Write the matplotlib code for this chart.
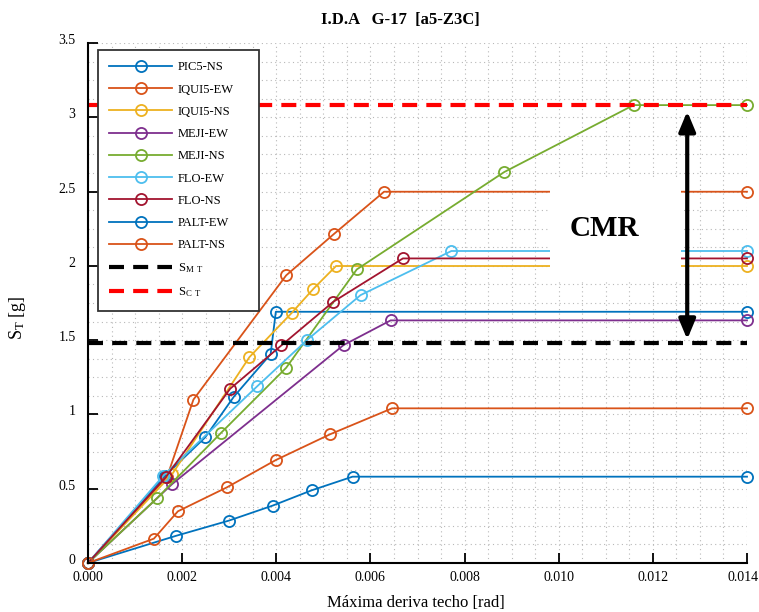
import matplotlib
matplotlib.use("Agg")
import matplotlib.pyplot as plt
import matplotlib.transforms as mtransforms
from matplotlib.patches import Rectangle, FancyArrowPatch
from matplotlib.ticker import MultipleLocator

plt.rcParams["font.family"] = ["Liberation Serif", "DejaVu Serif"]
plt.rcParams["mathtext.fontset"] = "custom"
plt.rcParams["mathtext.rm"] = "Liberation Serif"
plt.rcParams["mathtext.it"] = "Liberation Serif"

# datos (deriva [rad], S_T [g])
pic5_ns_x = [0, 0.00163, 0.00249, 0.00310, 0.00388, 0.00399, 0.014]
pic5_ns_y = [0, 0.585, 0.846, 1.120, 1.406, 1.691, 1.691]
iqui5_ew_x = [0, 0.00168, 0.00224, 0.00421, 0.00523, 0.00629, 0.014]
iqui5_ew_y = [0, 0.580, 1.100, 1.936, 2.216, 2.499, 2.499]
iqui5_ns_x = [0, 0.00179, 0.00343, 0.00433, 0.00479, 0.00527, 0.014]
iqui5_ns_y = [0, 0.599, 1.386, 1.684, 1.846, 1.999, 1.999]
meji_ew_x = [0, 0.00179, 0.00543, 0.00643, 0.014]
meji_ew_y = [0, 0.532, 1.467, 1.633, 1.633]
meji_ns_x = [0, 0.00147, 0.00283, 0.00421, 0.00571, 0.00884, 0.01159, 0.014]
meji_ns_y = [0, 0.437, 0.877, 1.314, 1.976, 2.631, 3.082, 3.082]
flo_ew_x = [0, 0.00160, 0.00360, 0.00465, 0.00579, 0.00772, 0.014]
flo_ew_y = [0, 0.588, 1.191, 1.500, 1.803, 2.100, 2.100]
flo_ns_x = [0, 0.00166, 0.00302, 0.00411, 0.00521, 0.00669, 0.014]
flo_ns_y = [0, 0.581, 1.173, 1.465, 1.758, 2.050, 2.050]
palt_ew_x = [0, 0.00186, 0.00299, 0.00392, 0.00475, 0.00562, 0.014]
palt_ew_y = [0, 0.182, 0.285, 0.386, 0.489, 0.581, 0.581]
palt_ns_x = [0, 0.00140, 0.00191, 0.00295, 0.00399, 0.00514, 0.00646, 0.014]
palt_ns_y = [0, 0.164, 0.348, 0.509, 0.693, 0.866, 1.041, 1.041]

s_mt = 1.48
s_ct = 3.085

nombres = ["PIC5-NS", "IQUI5-EW", "IQUI5-NS", "MEJI-EW", "MEJI-NS",
           "FLO-EW", "FLO-NS", "PALT-EW", "PALT-NS"]
colores = ["#0072BD", "#D95319", "#EDB120", "#7E2F8E", "#77AC30",
           "#4DBEEE", "#A2142F", "#0072BD", "#D95319"]
series = [(pic5_ns_x, pic5_ns_y), (iqui5_ew_x, iqui5_ew_y), (iqui5_ns_x, iqui5_ns_y),
          (meji_ew_x, meji_ew_y), (meji_ns_x, meji_ns_y), (flo_ew_x, flo_ew_y),
          (flo_ns_x, flo_ns_y), (palt_ew_x, palt_ew_y), (palt_ns_x, palt_ns_y)]

x_ticks = [0, 0.002, 0.004, 0.006, 0.008, 0.010, 0.012, 0.014]
x_labels = ["0.000", "0.002", "0.004", "0.006", "0.008", "0.010", "0.012", "0.014"]
y_ticks = [0, 0.5, 1, 1.5, 2, 2.5, 3, 3.5]
y_labels = ["0", "0.5", "1", "1.5", "2", "2.5", "3", "3.5"]

fig = plt.figure(figsize=(7.59, 6.12), dpi=100)
ax = fig.add_axes([88 / 759, 49 / 612, 659 / 759, 520 / 612])

for (xs, ys), nom, col in zip(series, nombres, colores):
    ax.plot(xs, ys, "-o", color=col, lw=1.3, ms=8, mfc="none", mew=1.3,
            label=nom, clip_on=False, zorder=2)

ax.axhline(s_mt, color="black", lw=3, dashes=(3.6, 2.2), zorder=2.2,
           label=r"S$_{\mathrm{M}\;\;\mathrm{T}}$")
ax.axhline(s_ct, color="red", lw=3, dashes=(3.6, 2.2), zorder=2.2,
           label=r"S$_{\mathrm{C}\;\;\mathrm{T}}$")

# caja blanca y texto CMR
ax.add_patch(Rectangle((0.00981, 1.89), 0.00279, 0.70, facecolor="white",
                       edgecolor="none", zorder=2.5))
ax.text(0.01098, 2.254, "CMR", fontsize=21, fontweight="bold",
        ha="center", va="center", zorder=3)

# flecha doble
flecha = FancyArrowPatch((0.01273, 1.505), (0.01273, 3.04),
                         arrowstyle="<|-|>,head_length=12,head_width=5",
                         mutation_scale=1, lw=3, color="black",
                         shrinkA=0, shrinkB=0, zorder=4)
ax.add_patch(flecha)

ax.set_xlim(0, 0.014)
ax.set_ylim(0, 3.5)
ax.set_xticks(x_ticks)
ax.set_xticklabels(x_labels)
ax.set_yticks(y_ticks)
ax.set_yticklabels(y_labels)
ax.xaxis.set_minor_locator(MultipleLocator(0.0005))
ax.yaxis.set_minor_locator(MultipleLocator(0.125))
ax.grid(True, which="both", color="0.72", lw=0.8, ls=(0, (1, 3)))
ax.set_axisbelow(True)

for lado in ["top", "right"]:
    ax.spines[lado].set_visible(False)
for lado in ["left", "bottom"]:
    ax.spines[lado].set_linewidth(1.5)
ax.tick_params(which="major", direction="in", length=7, width=1.3,
               labelsize=10, pad=9)
ax.tick_params(axis="x", which="major", pad=6)
ax.tick_params(which="minor", length=0)

desplaza = mtransforms.ScaledTranslation(0, 4 / 100, fig.dpi_scale_trans)
for lab in ax.get_yticklabels():
    lab.set_transform(lab.get_transform() + desplaza)
ultimo = ax.get_xticklabels()[-1]
ultimo.set_transform(ultimo.get_transform() +
                     mtransforms.ScaledTranslation(-4 / 100, 0, fig.dpi_scale_trans))

ax.set_title("I.D.A   G-17  [a5-Z3C]", fontsize=12, fontweight="bold",
             x=0.4734, pad=14)
ax.set_xlabel("Máxima deriva techo [rad]", fontsize=12)
ax.set_ylabel(r"S$_{\mathrm{T}}$ [g]", fontsize=13)
ax.xaxis.set_label_coords(0.498, -0.062)
ax.yaxis.set_label_coords(-0.091, 0.471)

leg = ax.legend(loc="upper left", bbox_to_anchor=(0.0152, 0.0, 0.2443, 0.9865),
                mode="expand", borderaxespad=0, fontsize=9, handlelength=5,
                handletextpad=0.5, labelspacing=0.82, borderpad=0.9,
                fancybox=False, framealpha=1, edgecolor="0.2")
leg.get_frame().set_linewidth(1.3)
leg.set_zorder(5)

plt.savefig("out.png", dpi=100)
plt.close()
